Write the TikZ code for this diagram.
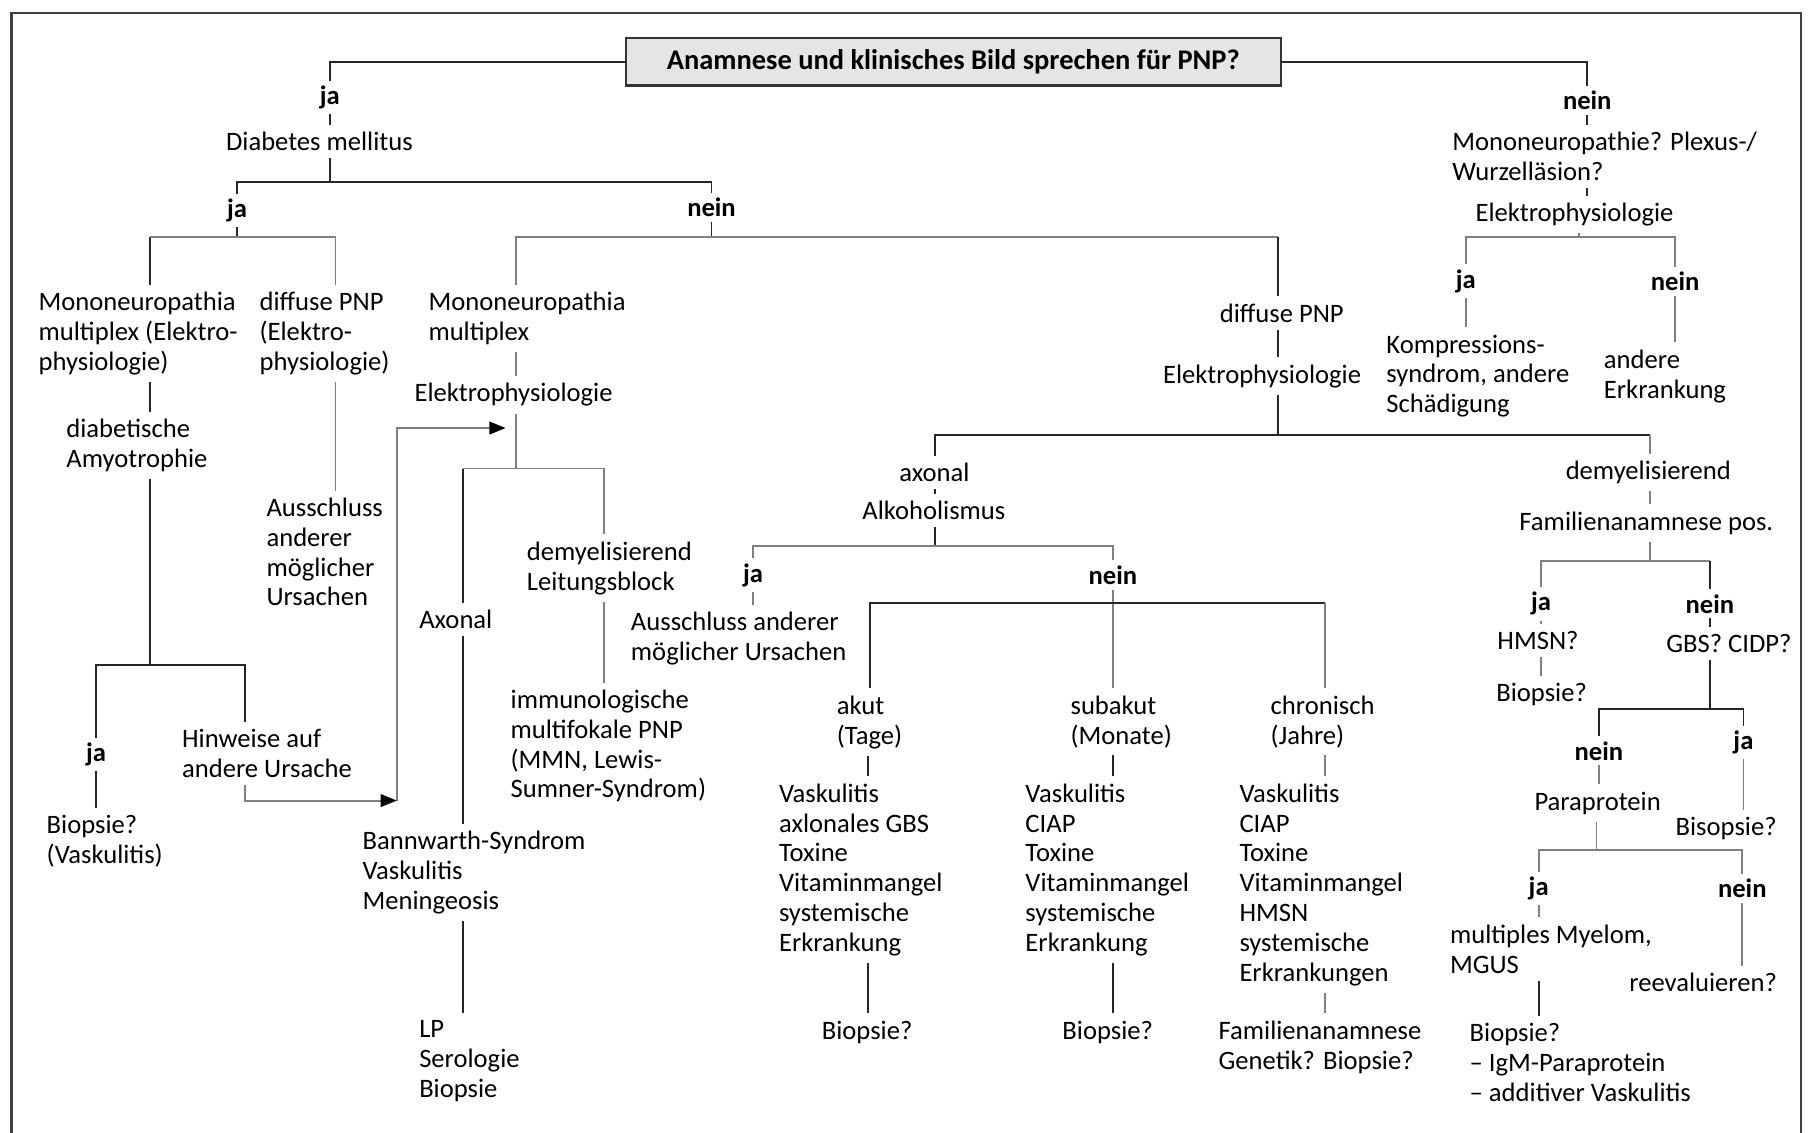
\documentclass[tikz,border=0pt]{standalone}
\usepackage{fontspec}
\setmainfont{Carlito}
\usetikzlibrary{arrows.meta}
\tikzset{
  txt/.style={font=\fontsize{11.5pt}{12.9pt}\selectfont, align=left, anchor=north west, inner sep=3pt, yshift=-1pt},
  lbl/.style={font=\fontsize{11.5pt}{12.9pt}\selectfont\bfseries, inner sep=2pt, yshift=-1pt},
  ln/.style={black!85, line width=0.8pt},
  lng/.style={black!50, line width=0.8pt},
  arrtip/.style={-{Triangle[length=7pt,width=5.5pt,color=black]}},
}
\begin{document}
\begin{tikzpicture}[x=0.5pt,y=-0.5pt]
        \useasboundingbox (0,0) rectangle (1568,979);
        %% Frame
        \draw[black!75,line width=1pt] (10,979) -- (10,11) -- (1557,11) -- (1557,979);
        %% Root
        \node[draw=black!80,line width=1pt,fill=black!10,minimum width=283pt,minimum height=20.5pt,
            inner sep=0pt,font=\fontsize{12.3pt}{13pt}\selectfont\bfseries]
            (root) at (824,53.5) {Anamnese und klinisches Bild sprechen für PNP?};
        \node[lbl] (jaT) at (285,82) {ja};
        \node[txt] (diab) at (189,106) {Diabetes mellitus};
        \node[lbl] (neinT) at (1372,85) {nein};
        \draw[ln] (root.west) -| (jaT.north);
        \draw[ln] (root.east) -| (neinT.north);
        \draw[ln] (jaT.south) -- (jaT.south |- diab.north);
        %% Right branch: no PNP
        \node[txt] (mono) at (1249,106) {Mononeuropathie? Plexus-/\\Wurzelläsion?};
        \node[txt] (elR) at (1269,167) {Elektrophysiologie};
        \node[lbl] (jaR) at (1267,241) {ja};
        \node[lbl] (neinR) at (1448,241) {nein};
        \node[txt] (kompr) at (1192,281) {Kompressions-\\syndrom, andere\\Schädigung};
        \node[txt] (andErk) at (1380,294) {andere\\Erkrankung};
        \draw[ln] (neinT.south) -- (1372,0 |- mono.north);
        \draw[ln] (1372,0 |- mono.south) -- (1372,0 |- elR.north);
        \draw[lng] (1365,0 |- elR.south) -- (1365,205);
        \draw[lng] (jaR.north) |- (0,205 -| neinR.north) -- (neinR.north);
        \draw[lng] (jaR.south) -- (1267,0 |- kompr.north);
        \draw[lng] (neinR.south) -- (1448,0 |- andErk.north);
        %% Diabetes
        \node[lbl] (jaD) at (205,180) {ja};
        \node[lbl] (neinD) at (615,177) {nein};
        \draw[ln] (285,0 |- diab.south) -- (285,157);
        \draw[ln] (jaD.north) |- (0,157 -| neinD.north) -- (neinD.north);
        \draw[ln] (jaD.south) -- (205,205);
        \draw[ln] (neinD.south) -- (615,205);
        %% Diabetes: ja
        \node[txt] (mmA) at (27,244) {Mononeuropathia\\multiplex (Elektro-\\physiologie)};
        \node[txt] (dpA) at (218,244) {diffuse PNP\\(Elektro-\\physiologie)};
        \node[txt] (amyo) at (51,354) {diabetische\\Amyotrophie};
        \node[txt] (aus1) at (224,422) {Ausschluss\\anderer\\möglicher\\Ursachen};
        \node[lbl] (jaA) at (83,650) {ja};
        \node[txt] (hinw) at (151,622) {Hinweise auf\\andere Ursache};
        \node[txt] (biopV) at (34,696) {Biopsie?\\(Vaskulitis)};
        \draw[ln] (130,205) -- (130,0 |- mmA.north);
        \draw[lng] (130,205) -- (290,205) -- (290,0 |- dpA.north);
        \draw[ln] (130,0 |- mmA.south) -- (130,0 |- amyo.north);
        \draw[ln] (130,0 |- amyo.south) -- (130,575);
        \draw[ln] (jaA.north) |- (212,575) -- (212,0 |- hinw.north);
        \draw[ln] (jaA.south) -- (jaA.south |- biopV.north);
        \draw[lng] (290,0 |- dpA.south) -- (290,0 |- aus1.north);
        %% Diabetes: nein, Mononeuropathia multiplex
        \node[txt] (mmB) at (364,244) {Mononeuropathia\\multiplex};
        \node[txt] (elB) at (352,323) {Elektrophysiologie};
        \node[txt] (axB) at (356,519) {Axonal};
        \node[txt] (bann) at (307,710) {Bannwarth-Syndrom\\Vaskulitis\\Meningeosis};
        \node[txt] (lp) at (356,874) {LP\\Serologie\\Biopsie};
        \node[txt] (demB) at (449,460) {demyelisierend\\Leitungsblock};
        \node[txt] (immu) at (435,588) {immunologische\\multifokale PNP\\(MMN, Lewis-\\Sumner-Syndrom)};
        \coordinate (hEnd) at (343,692);
        \coordinate (eEnd) at (437,370);
        \draw[lng,arrtip] (212,0 |- hinw.south) |- (hEnd);
        \draw[lng,arrtip] (hEnd) |- (eEnd);
        \draw[lng] (446,0 |- mmB.north) |- (1105,205);
        \draw[lng] (446,0 |- mmB.south) -- (446,0 |- elB.north);
        \draw[lng] (446,0 |- elB.south) -- (446,405);
        \draw[ln] (400,405) -- (400,0 |- axB.north);
        \draw[lng] (400,405) -- (522,405) -- (522,0 |- demB.north);
        \draw[ln] (400,0 |- axB.south) -- (400,0 |- bann.north);
        \draw[ln] (400,0 |- bann.south) -- (400,0 |- lp.north);
        \draw[lng] (522,0 |- demB.south) -- (522,0 |- immu.north);
        %% Diabetes: nein, diffuse PNP
        \node[txt] (dpC) at (1048,254) {diffuse PNP};
        \node[txt] (elC) at (999,307) {Elektrophysiologie};
        \draw[ln] (1105,205) -- (1105,0 |- dpC.north);
        \draw[ln] (1105,0 |- dpC.south) -- (1105,0 |- elC.north);
        \draw[ln] (1105,0 |- elC.south) -- (1105,376);
        %% axonal
        \node[txt] (axC) at (771,392) {axonal};
        \node[txt] (alko) at (739,425) {Alkoholismus};
        \node[lbl] (jaC) at (651,495) {ja};
        \node[lbl] (neinC) at (962,495) {nein};
        \node[txt] (ausC) at (539,521) {Ausschluss anderer\\möglicher Ursachen};
        \node[txt] (akut) at (717,593) {akut\\(Tage)};
        \node[txt] (subak) at (919,593) {subakut\\(Monate)};
        \node[txt] (chron) at (1092,593) {chronisch\\(Jahre)};
        \node[txt] (listA) at (667,669) {Vaskulitis\\axlonales GBS\\Toxine\\Vitaminmangel\\systemische\\Erkrankung};
        \node[txt] (listB) at (880,669) {Vaskulitis\\CIAP\\Toxine\\Vitaminmangel\\systemische\\Erkrankung};
        \node[txt] (listC) at (1065,669) {Vaskulitis\\CIAP\\Toxine\\Vitaminmangel\\HMSN\\systemische\\Erkrankungen};
        \node[txt] (biopA) at (704,874) {Biopsie?};
        \node[txt] (biopB) at (912,874) {Biopsie?};
        \node[txt] (famC) at (1047,874) {Familienanamnese\\Genetik? Biopsie?};
        \draw[ln] (808,0 |- axC.north) |- (1426,376);
        \draw[ln] (808,0 |- axC.south) -- (808,0 |- alko.north);
        \draw[ln] (808,0 |- alko.south) -- (808,472);
        \draw[lng] (jaC.north) |- (0,472 -| neinC.north) -- (neinC.north);
        \draw[lng] (jaC.south) -- (651,0 |- ausC.north);
        \draw[lng] (neinC.south) -- (962,0 |- subak.north);
        \draw[ln] (752,0 |- akut.north) |- (1145,521);
        \draw[lng] (1145,521) -- (1145,0 |- chron.north);
        \draw[ln] (750,0 |- akut.south) -- (750,0 |- listA.north);
        \draw[ln] (962,0 |- subak.south) -- (962,0 |- listB.north);
        \draw[lng] (1145,0 |- chron.south) -- (1145,0 |- listC.north);
        \draw[ln] (750,0 |- listA.south) -- (750,0 |- biopA.north);
        \draw[ln] (962,0 |- listB.south) -- (962,0 |- biopB.north);
        \draw[lng] (1145,0 |- listC.south) -- (1145,0 |- famC.north);
        %% demyelisierend
        \node[txt] (demC) at (1347,390) {demyelisierend};
        \node[txt] (famP) at (1307,434) {Familienanamnese pos.};
        \node[lbl] (jaE) at (1332,520) {ja};
        \node[lbl] (neinE) at (1478,520) {nein};
        \node[txt] (hmsn) at (1288,537) {HMSN?};
        \node[txt] (biopE) at (1287,582) {Biopsie?};
        \node[txt] (gbs) at (1434,540) {GBS? CIDP?};
        \node[lbl] (neinF) at (1382,647) {nein};
        \node[lbl] (jaF) at (1507,640) {ja};
        \node[txt] (para) at (1320,676) {Paraprotein};
        \node[txt] (bisop) at (1442,698) {Bisopsie?};
        \node[lbl] (jaG) at (1330,766) {ja};
        \node[lbl] (neinG) at (1506,766) {nein};
        \node[txt] (mult) at (1247,791) {multiples Myelom,\\MGUS};
        \node[txt] (reev) at (1402,833) {reevaluieren?};
        \node[txt] (biopG) at (1264,876) {Biopsie?\\– IgM-Paraprotein\\– additiver Vaskulitis};
        \draw[lng] (1426,376) -- (1426,0 |- demC.north);
        \draw[lng] (1426,0 |- demC.south) -- (1426,0 |- famP.north);
        \draw[lng] (1426,0 |- famP.south) -- (1426,485);
        \draw[lng] (jaE.north) |- (0,485 -| neinE.north);
        \draw[ln] (1478,485) -- (neinE.north);
        \draw[lng] (jaE.south) -- (1332,0 |- hmsn.north);
        \draw[lng] (1332,0 |- hmsn.south) -- (1332,0 |- biopE.north);
        \draw[ln] (neinE.south) -- (1478,0 |- gbs.north);
        \draw[ln] (1478,0 |- gbs.south) -- (1478,613);
        \draw[ln] (neinF.north) |- (0,613 -| jaF.north) -- (jaF.north);
        \draw[lng] (neinF.south) -- (1382,0 |- para.north);
        \draw[lng] (jaF.south) -- (1507,0 |- bisop.north);
        \draw[lng] (1380,0 |- para.south) -- (1380,735);
        \draw[lng] (jaG.north) |- (0,735 -| neinG.north) -- (neinG.north);
        \draw[lng] (jaG.south) -- (1330,0 |- mult.north);
        \draw[lng] (neinG.south) -- (1506,0 |- reev.north);
        \draw[ln] (1330,0 |- mult.south) -- (1330,0 |- biopG.north);
    \end{tikzpicture}
\end{document}
